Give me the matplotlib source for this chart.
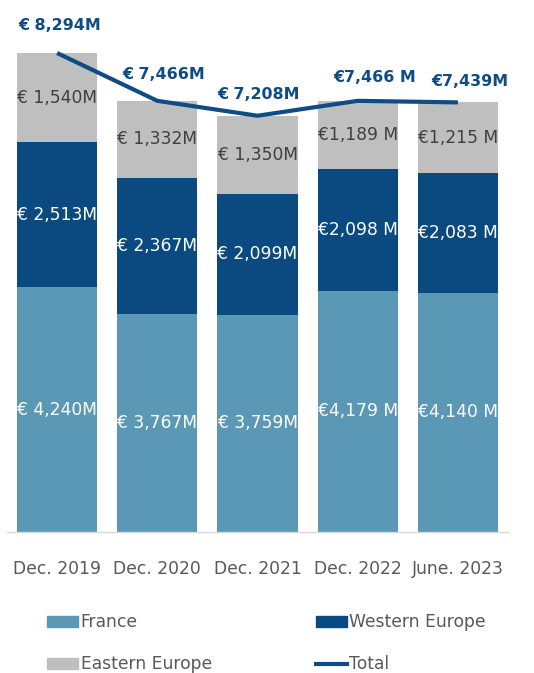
import numpy as np
import matplotlib.pyplot as plt
from matplotlib.lines import Line2D
from matplotlib.patches import Patch

# --- portfolio by region, in EUR millions ---
periods = ["Dec. 2019", "Dec. 2020", "Dec. 2021", "Dec. 2022", "June. 2023"]
france = [4240, 3767, 3759, 4179, 4140]
western_europe = [2513, 2367, 2099, 2098, 2083]
eastern_europe = [1540, 1332, 1350, 1189, 1215]
totals = [8294, 7466, 7208, 7466, 7439]

france_labels = ["€ 4,240M", "€ 3,767M", "€ 3,759M", "€4,179 M", "€4,140 M"]
western_labels = ["€ 2,513M", "€ 2,367M", "€ 2,099M", "€2,098 M", "€2,083 M"]
eastern_labels = ["€ 1,540M", "€ 1,332M", "€ 1,350M", "€1,189 M", "€1,215 M"]
total_labels = ["€ 8,294M", "€ 7,466M", "€ 7,208M", "€7,466 M", "€7,439M"]

C_FRANCE = "#5b98b6"
C_WEST = "#0b4a80"
C_EAST = "#bfbfbf"
C_TOTAL = "#0f4c86"
C_TEXT = "#595959"

plt.rcParams['font.family'] = ['DejaVu Sans']

fig = plt.figure(figsize=(5.34, 6.73), dpi=100)
ax = fig.add_axes([7 / 534, 141 / 673, 501 / 534, 532 / 673])

x = np.arange(len(periods))
w = 0.8
fr = np.array(france)
we = np.array(western_europe)
ea = np.array(eastern_europe)

ax.bar(x, fr, w, color=C_FRANCE)
ax.bar(x, we, w, bottom=fr, color=C_WEST)
ax.bar(x, ea, w, bottom=fr + we, color=C_EAST)
ax.plot(x, totals, color=C_TOTAL, lw=3, solid_capstyle='butt')

FS = 12.3
for i in range(len(x)):
    ax.text(x[i], fr[i] / 2, france_labels[i], ha='center', va='center',
            color='white', fontsize=FS)
    ax.text(x[i], fr[i] + we[i] / 2, western_labels[i], ha='center', va='center',
            color='white', fontsize=FS)
    ax.text(x[i], fr[i] + we[i] + ea[i] / 2, eastern_labels[i], ha='center',
            va='center', color='#404040', fontsize=FS)

# total labels sit above the line, nudged a little sideways
nudges = [(3, 28), (6, 26), (1, 21), (17, 23), (12, 21)]
for i in range(len(x)):
    ax.annotate(total_labels[i], (x[i], totals[i]), xytext=nudges[i],
                textcoords='offset pixels', ha='center', va='center',
                color=C_TOTAL, fontsize=11.4, fontweight='bold')

ax.set_xlim(-0.5, len(x) - 0.5)
ax.set_ylim(0, 9212)
ax.set_xticks(x)
ax.set_xticklabels(periods, fontsize=FS, color=C_TEXT)
ax.tick_params(axis='x', length=0, pad=20)
ax.set_yticks([])
for s in ['top', 'left', 'right']:
    ax.spines[s].set_visible(False)
ax.spines['bottom'].set_color('#d9d9d9')
ax.spines['bottom'].set_linewidth(1)

handles = [Patch(color=C_FRANCE), Patch(color=C_EAST),
           Patch(color=C_WEST), Line2D([], [], color=C_TOTAL, lw=3)]
names = ["France", "Eastern Europe", "Western Europe", "Total"]
fig.legend(handles, names, ncol=2, frameon=False, loc='upper left',
           bbox_to_anchor=(32 / 534, 1 - 598 / 673), fontsize=FS,
           labelcolor=C_TEXT, handlelength=1.8, handleheight=0.6,
           handletextpad=0.15, columnspacing=6.1, labelspacing=1.4)

fig.savefig("out.png", dpi=100)
